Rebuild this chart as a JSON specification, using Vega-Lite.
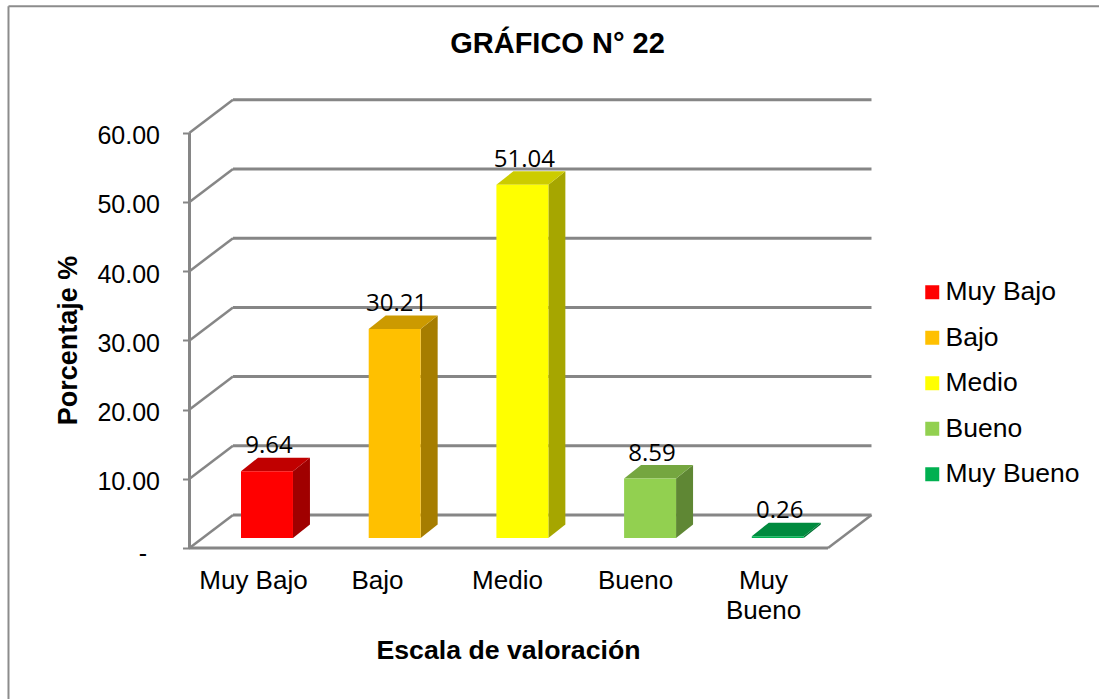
{
"$schema":"https://vega.github.io/schema/vega-lite/v6.json",
"width":1091,"height":693,
"autosize":{"type":"none"},
"padding":{"left":8,"top":6,"right":0,"bottom":0},
"background":"white",
"view":{"stroke":null},
"config":{"font":"Liberation Sans"},
"title":{"text":"GRÁFICO N° 22","anchor":"middle","offset":-54,"dx":4,"fontSize":29,"fontWeight":"bold","color":"#000000","font":"Liberation Sans"},
"datasets":{
"valores":[
{"categoria":"Muy Bajo","orden":0,"valor":9.64},
{"categoria":"Bajo","orden":1,"valor":30.21},
{"categoria":"Medio","orden":2,"valor":51.04},
{"categoria":"Bueno","orden":3,"valor":8.59},
{"categoria":"Muy Bueno","orden":4,"valor":0.26}],
"lineas":[{"v":0},{"v":10},{"v":20},{"v":30},{"v":40},{"v":50},{"v":60}]
},
"data":{"name":"valores"},
"encoding":{
"x":{"field":"x","type":"quantitative","scale":{"domain":[-1.4213,7.1222],"nice":false,"zero":false},
"axis":{"orient":"bottom","offset":-151,"values":[0.497,1.468,2.486,3.489,4.491],"domain":false,"ticks":false,"grid":false,"labelOverlap":false,"labelFlush":false,"labelBound":false,
"labelExpr":"['Muy Bajo','Bajo','Medio','Bueno',['Muy','Bueno']][floor(datum.value)]","labelFontSize":26,"labelColor":"#000000","labelPadding":19,"labelLineHeight":30,"labelFont":"Liberation Sans","labelBaseline":"top",
"title":"Escala de valoración","titleFontSize":26.7,"titleFontWeight":"bold","titleColor":"#000000","titleX":500,"titleY":110,"titleBaseline":"alphabetic","titleFont":"Liberation Sans"}},
"y":{"field":"y","type":"quantitative","scale":{"domain":[-21.82,78.32],"nice":false,"zero":false},
"axis":{"orient":"left","offset":-181.5,"values":[0,10,20,30,40,50,60],"domain":false,"grid":false,"tickSize":7,"tickWidth":2,"tickColor":"#868686","labelOverlap":false,"labelFlush":false,"labelBound":false,
"labelExpr":"datum.value==0 ? '-' : format(datum.value,'.2f')","labelFontSize":25,"labelColor":"#000000",
"labelPadding":{"condition":{"test":"datum.value==0","value":36},"value":23},
"labelOffset":{"condition":{"test":"datum.value==0","value":6},"value":3},
"labelFont":"Liberation Sans",
"title":"Porcentaje %","titleFontSize":27,"titleFontWeight":"bold","titleColor":"#000000","titleX":-113,"titleY":334,"titleAngle":-90,"titleBaseline":"alphabetic","titleFont":"Liberation Sans"}}
},
"layer":[
{"data":{"values":[{"v":0}]},"transform":[{"calculate":"-1.4175","as":"x"},{"calculate":"7.1222","as":"x2"},{"calculate":"78.3","as":"y"}],
"mark":{"type":"rule","color":"#8c8c8c","strokeWidth":2,"clip":false},
"encoding":{"x2":{"field":"x2"}}},
{"data":{"values":[{"v":0}]},"transform":[{"calculate":"-1.4175","as":"x"},{"calculate":"78.3","as":"y"},{"calculate":"-21.82","as":"y2"}],
"mark":{"type":"rule","color":"#8c8c8c","strokeWidth":2,"clip":false},
"encoding":{"y2":{"field":"y2"}}},
{"data":{"name":"lineas"},"transform":[{"calculate":"0.3406","as":"x"},{"calculate":"5.3406","as":"x2"},{"calculate":"datum.v+4.77","as":"y"}],
"mark":{"type":"rule","color":"#868686","strokeWidth":3},
"encoding":{"x2":{"field":"x2"}}},
{"data":{"name":"lineas"},"transform":[{"calculate":"0","as":"x"},{"calculate":"0.3406","as":"x2"},{"calculate":"datum.v","as":"y"},{"calculate":"datum.v+4.77","as":"y2"}],
"mark":{"type":"rule","color":"#868686","strokeWidth":2.5},
"encoding":{"x2":{"field":"x2"},"y2":{"field":"y2"}}},
{"data":{"values":[{"v":0}]},"transform":[{"calculate":"5","as":"x"},{"calculate":"5.3406","as":"x2"},{"calculate":"0","as":"y"},{"calculate":"4.77","as":"y2"}],
"mark":{"type":"rule","color":"#868686","strokeWidth":2.5},
"encoding":{"x2":{"field":"x2"},"y2":{"field":"y2"}}},
{"data":{"values":[{"v":0}]},"transform":[{"calculate":"0","as":"x"},{"calculate":"5","as":"x2"},{"calculate":"0","as":"y"}],
"mark":{"type":"rule","color":"#868686","strokeWidth":3},
"encoding":{"x2":{"field":"x2"}}},
{"data":{"values":[{"v":0}]},"transform":[{"calculate":"0","as":"x"},{"calculate":"0","as":"y"},{"calculate":"60","as":"y2"}],
"mark":{"type":"rule","color":"#868686","strokeWidth":3},
"encoding":{"y2":{"field":"y2"}}},
{"transform":[{"calculate":"[0,1]","as":"t"},{"flatten":["t"]},
{"calculate":"datum.orden+0.8103+datum.t*0.133","as":"x"},
{"calculate":"datum.valor+1.445+datum.t*1.95","as":"y"},
{"calculate":"1.445+datum.t*1.95","as":"y2"}],
"mark":{"type":"area"},
"encoding":{"y2":{"field":"y2"},
"color":{"field":"categoria","type":"nominal","legend":null,"scale":{"domain":["Muy Bajo","Bajo","Medio","Bueno","Muy Bueno"],"range":["#A00000","#A67D00","#A6A600","#5F8734","#007233"]}}}},
{"transform":[{"calculate":"[0,1]","as":"t"},{"flatten":["t"]},
{"calculate":"datum.orden+0.4033+datum.t*0.133","as":"x"},
{"calculate":"datum.orden+0.8103+datum.t*0.133","as":"x2"},
{"calculate":"datum.valor+1.445+datum.t*1.95","as":"y"}],
"mark":{"type":"area","orient":"horizontal"},
"encoding":{"x2":{"field":"x2"},
"color":{"field":"categoria","type":"nominal","legend":null,"scale":{"domain":["Muy Bajo","Bajo","Medio","Bueno","Muy Bueno"],"range":["#C00000","#CC9A00","#CCCC00","#75A640","#008A3E"]}}}},
{"transform":[
{"calculate":"datum.orden+0.4033","as":"x"},
{"calculate":"datum.orden+0.8103","as":"x2"},
{"calculate":"datum.valor+1.445","as":"y"},
{"calculate":"1.445","as":"y2"}],
"mark":{"type":"rect"},
"encoding":{"x2":{"field":"x2"},"y2":{"field":"y2"},
"color":{"field":"categoria","type":"nominal","sort":null,
"scale":{"domain":["Muy Bajo","Bajo","Medio","Bueno","Muy Bueno"],"range":["#FF0000","#FFC000","#FFFF00","#92D050","#00B050"]},
"legend":{"orient":"none","legendX":911,"legendY":273,"title":null,"symbolType":"square","symbolSize":196,"symbolStrokeWidth":0,"labelFontSize":26.5,"labelColor":"#000000","labelFont":"Liberation Sans","labelOffset":0,"rowPadding":18.5,"padding":0}}}},
{"transform":[
{"calculate":"datum.orden+0.622","as":"x"},
{"calculate":"datum.valor+1.445","as":"y"},
{"calculate":"format(datum.valor,'.2f')","as":"etiqueta"}],
"mark":{"type":"text","font":"Open Sans","fontSize":24,"dy":-25,"color":"#000000"},
"encoding":{"text":{"field":"etiqueta"}}}
],
"resolve":{"scale":{"color":"independent"}}
}
